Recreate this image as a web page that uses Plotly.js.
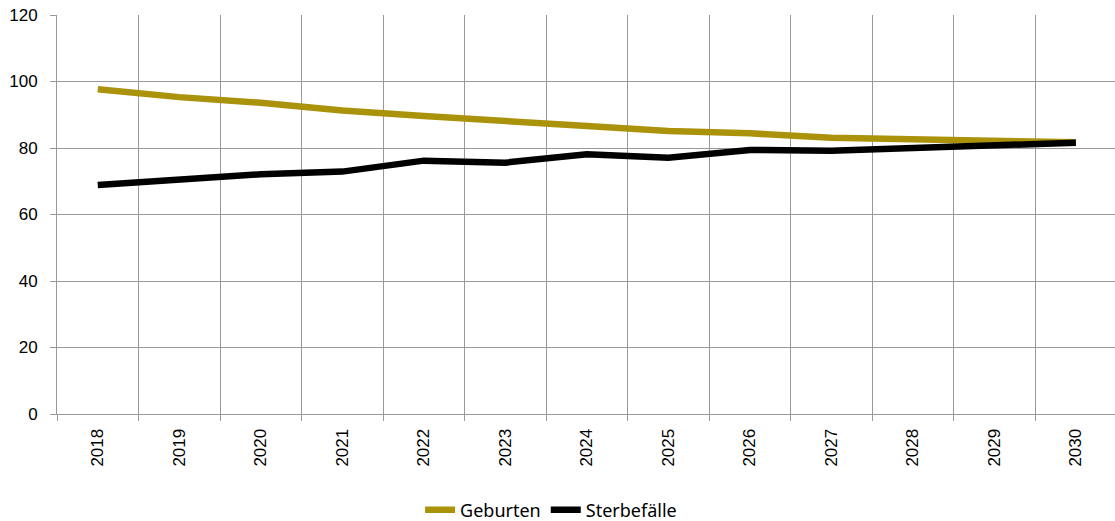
<!DOCTYPE html>
<html>
<head>
<meta charset="utf-8">
<script src="https://cdn.plot.ly/plotly-3.0.1.min.js"></script>
<style>html,body{margin:0;padding:0;background:#fff;}#chart{width:1115px;height:521px;}</style>
</head>
<body>
<div id="chart"></div>
<script>
const years = ['2018','2019','2020','2021','2022','2023','2024','2025','2026','2027','2028','2029','2030'];
const geburten = [97.7, 95.3, 93.6, 91.3, 89.6, 87.9, 86.6, 85.1, 84.4, 83.1, 82.7, 82.2, 81.7];
const sterbefaelle = [68.9, 70.5, 72.1, 72.9, 76.2, 75.6, 78.1, 77.1, 79.4, 79.2, 80.0, 80.8, 81.6];

const traces = [
  {x: years, y: geburten, name: 'Geburten', type: 'scatter', mode: 'lines',
   line: {color: '#AA930B', width: 6.5}},
  {x: years, y: sterbefaelle, name: 'Sterbefälle', type: 'scatter', mode: 'lines',
   line: {color: '#000000', width: 6.5}}
];

const layout = {
  width: 1115, height: 521,
  margin: {l: 57, r: 0, t: 15, b: 107, autoexpand: false},
  paper_bgcolor: '#ffffff', plot_bgcolor: '#ffffff',
  font: {family: 'Liberation Sans, Arial, sans-serif', size: 17, color: '#000'},
  xaxis: {
    type: 'category', range: [-0.5, 12.48], automargin: false,
    tickson: 'boundaries', ticks: 'outside', ticklen: 6, tickcolor: '#999999',
    showgrid: true, gridcolor: '#999999', gridwidth: 1,
    tickangle: -90, tickfont: {size: 17}, ticklabelstandoff: 7,
    showline: true, linecolor: '#999999', zeroline: false, fixedrange: true
  },
  yaxis: {
    range: [0, 120], dtick: 20, tick0: 0, automargin: false,
    ticks: 'outside', ticklen: 6, tickcolor: '#999999',
    showgrid: true, gridcolor: '#999999', gridwidth: 1,
    showline: true, linecolor: '#999999', zeroline: false,
    tickfont: {size: 17}, ticklabelstandoff: 9, fixedrange: true
  },
  showlegend: true,
  legend: {orientation: 'h', x: 0.467, xanchor: 'center', yref: 'container', y: 0.021, yanchor: 'middle',
    font: {family: 'Noto Sans, sans-serif', size: 18}, itemwidth: 30, tracegroupgap: 0}
};

Plotly.newPlot('chart', traces, layout, {displayModeBar: false, staticPlot: true});
</script>
</body>
</html>
